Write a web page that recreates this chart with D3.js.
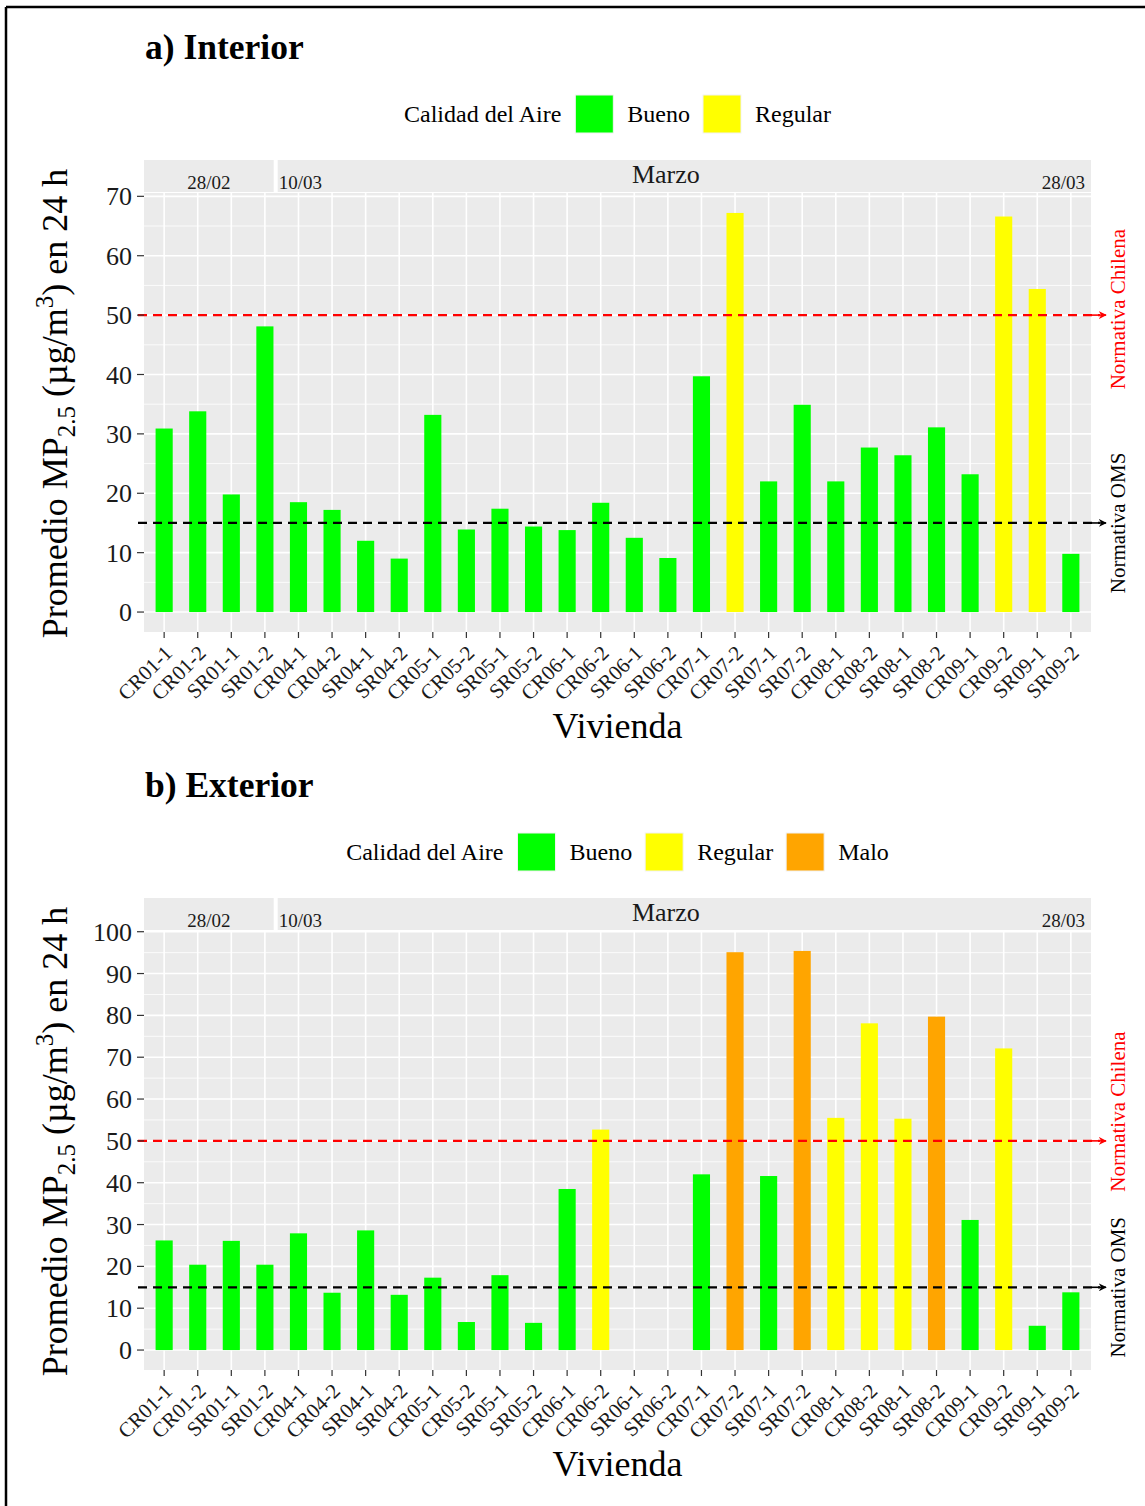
<!DOCTYPE html>
<html><head><meta charset="utf-8">
<script src="https://cdn.jsdelivr.net/npm/d3@7"></script>
<style>
html,body{margin:0;padding:0;background:#fff;}
svg text{font-family:"Liberation Serif","Times New Roman",serif;}
</style></head>
<body>
<svg id="chart" width="1145" height="1506"></svg>
<script>
// ---------------- data ----------------
const viviendas = ["CR01-1","CR01-2","SR01-1","SR01-2","CR04-1","CR04-2","SR04-1","SR04-2",
  "CR05-1","CR05-2","SR05-1","SR05-2","CR06-1","CR06-2","SR06-1","SR06-2",
  "CR07-1","CR07-2","SR07-1","SR07-2","CR08-1","CR08-2","SR08-1","SR08-2",
  "CR09-1","CR09-2","SR09-1","SR09-2"];
const interiorValues = [30.9,33.8,19.8,48.1,18.5,17.2,12.0,9.0,
  33.2,13.9,17.4,14.4,13.8,18.4,12.5,9.1,
  39.7,67.2,22.0,34.9,22.0,27.7,26.4,31.1,
  23.2,66.6,54.4,9.8];
const interiorCalidad = ["Bueno","Bueno","Bueno","Bueno","Bueno","Bueno","Bueno","Bueno",
  "Bueno","Bueno","Bueno","Bueno","Bueno","Bueno","Bueno","Bueno",
  "Bueno","Regular","Bueno","Bueno","Bueno","Bueno","Bueno","Bueno",
  "Bueno","Regular","Regular","Bueno"];
const exteriorValues = [26.2,20.4,26.1,20.4,27.9,13.7,28.6,13.2,
  17.3,6.7,17.9,6.5,38.5,52.7,null,null,
  42.0,95.1,41.6,95.4,55.5,78.1,55.3,79.7,
  31.1,72.1,5.8,13.8];
const exteriorCalidad = ["Bueno","Bueno","Bueno","Bueno","Bueno","Bueno","Bueno","Bueno",
  "Bueno","Bueno","Bueno","Bueno","Bueno","Regular",null,null,
  "Bueno","Malo","Bueno","Malo","Regular","Regular","Regular","Malo",
  "Bueno","Regular","Bueno","Bueno"];
const calidadLevels = ["Bueno","Regular","Malo"];
const calidadColors = ["#00FF00","#FFFF00","#FFA500"];
const interiorTicks = [0,10,20,30,40,50,60,70];
const exteriorTicks = [0,10,20,30,40,50,60,70,80,90,100];
const normativas = [{name:"Normativa Chilena", value:50, color:"#FF0000"},
                    {name:"Normativa OMS", value:15, color:"#000000"}];
const interiorLabelPos = [51, 15];
const exteriorLabelPos = [57, 15];
const stripLabels = {first:"28/02", start:"10/03", month:"Marzo", end:"28/03"};

// ---------------- layout ----------------
const svg = d3.select("#chart");
const color = d3.scaleOrdinal().domain(calidadLevels).range(calidadColors);
const L = 144, R = 1091;

// outer frame (left & top)
svg.append("line").attr("x1",6).attr("y1",7).attr("x2",1145).attr("y2",7).attr("stroke","#000").attr("stroke-width",2.5);
svg.append("line").attr("x1",6).attr("y1",7).attr("x2",6).attr("y2",1506).attr("stroke","#000").attr("stroke-width",2.5);

function panel(cfg){
  const off = cfg.off;
  const g = svg.append("g").attr("transform",`translate(0,${off})`);
  const top = 193, bottom = 632;
  const x = d3.scalePoint().domain(viviendas).range([L,R]).padding(0.6);
  const step = x.step();
  const vmax = d3.max(cfg.values.filter(v=>v!=null));
  const pad = vmax*0.05;
  const y = d3.scaleLinear().domain([-pad, vmax+pad]).range([bottom, top]);

  // title
  g.append("text").attr("x",145).attr("y",59).attr("font-size",35.5).attr("font-weight","bold").text(cfg.title);

  // legend
  const lg = g.append("g");
  let cx = 0;
  const lt = lg.append("text").attr("x",cx).attr("y",114).attr("dy","0.35em").attr("font-size",24).text("Calidad del Aire");
  cx += lt.node().getComputedTextLength() + 14;
  cfg.levels.forEach((lev,i)=>{
    lg.append("rect").attr("x",cx).attr("y",95).attr("width",38).attr("height",38).attr("fill",color(lev))
      .attr("stroke","#f2f2f2").attr("stroke-width",1);
    cx += 38 + 14;
    const t = lg.append("text").attr("x",cx).attr("y",114).attr("dy","0.35em").attr("font-size",24).text(lev);
    cx += t.node().getComputedTextLength() + (i < cfg.levels.length-1 ? 13 : 0);
  });
  lg.attr("transform",`translate(${(L+R)/2 - cx/2},0)`);

  // strips
  const split = (x(viviendas[3]) + x(viviendas[4]))/2 - 6;
  g.append("rect").attr("x",L).attr("y",160).attr("width",split-2-L).attr("height",32).attr("fill","#EBEBEB");
  g.append("rect").attr("x",split+2).attr("y",160).attr("width",R-split-2).attr("height",32).attr("fill","#EBEBEB");
  g.append("text").attr("x",(L+split-2)/2).attr("y",189).attr("text-anchor","middle").attr("font-size",19).attr("fill","#1a1a1a").text(stripLabels.first);
  g.append("text").attr("x",split+3).attr("y",189).attr("font-size",19).attr("fill","#1a1a1a").text(stripLabels.start);
  g.append("text").attr("x",x("SR06-2")-2).attr("y",183).attr("text-anchor","middle").attr("font-size",26).attr("fill","#1a1a1a").text(stripLabels.month);
  g.append("text").attr("x",R-6).attr("y",189).attr("text-anchor","end").attr("font-size",19).attr("fill","#1a1a1a").text(stripLabels.end);

  // panel background + grid
  g.append("rect").attr("x",L).attr("y",top).attr("width",R-L).attr("height",bottom-top).attr("fill","#EBEBEB");
  const ticks = cfg.ticks;
  const minor = ticks.slice(0,-1).map(t=>t+(ticks[1]-ticks[0])/2).concat([ticks[ticks.length-1]+(ticks[1]-ticks[0])/2]).filter(v=>y(v)>=top);
  g.selectAll(".mn").data(minor).join("line").attr("x1",L).attr("x2",R).attr("y1",d=>y(d)).attr("y2",d=>y(d)).attr("stroke","#fff").attr("stroke-width",0.8);
  g.selectAll(".mj").data(ticks).join("line").attr("x1",L).attr("x2",R).attr("y1",d=>y(d)).attr("y2",d=>y(d)).attr("stroke","#fff").attr("stroke-width",1.6);
  g.selectAll(".vx").data(viviendas).join("line").attr("x1",d=>x(d)).attr("x2",d=>x(d)).attr("y1",top).attr("y2",bottom).attr("stroke","#fff").attr("stroke-width",1.6);

  // bars
  const bw = step*0.51;
  const rows = viviendas.map((v,i)=>({v, val:cfg.values[i], cat:cfg.cats[i]})).filter(d=>d.val!=null);
  g.selectAll(".bar").data(rows).join("rect")
    .attr("x",d=>x(d.v)-bw/2).attr("width",bw)
    .attr("y",d=>y(d.val)).attr("height",d=>y(0)-y(d.val))
    .attr("fill",d=>color(d.cat));

  // reference lines
  const defsId = "arr"+cfg.id;
  const defs = g.append("defs");
  normativas.forEach((n,i)=>{
    defs.append("marker").attr("id",defsId+i).attr("viewBox","0 0 10 10").attr("refX",9).attr("refY",5)
      .attr("markerWidth",5).attr("markerHeight",5).attr("markerUnits","strokeWidth").attr("orient","auto")
      .append("path").attr("d","M0,0 L10,5 L0,10 L3,5 Z").attr("fill",n.color);
    g.append("line").attr("x1",L-6).attr("x2",1100).attr("y1",y(n.value)).attr("y2",y(n.value))
      .attr("stroke",n.color).attr("stroke-width",2.2).attr("stroke-dasharray","9,6");
    g.append("line").attr("x1",1092).attr("x2",1106).attr("y1",y(n.value)).attr("y2",y(n.value))
      .attr("stroke",n.color).attr("stroke-width",1.6).attr("marker-end",`url(#${defsId+i})`);
    g.append("text").attr("transform",`translate(1125,${y(cfg.labelPos[i])}) rotate(-90)`)
      .attr("text-anchor","middle").attr("font-size",21).attr("fill",n.color).text(n.name);
  });

  // y axis
  g.selectAll(".yt").data(ticks).join("line").attr("x1",137).attr("x2",L).attr("y1",d=>y(d)).attr("y2",d=>y(d)).attr("stroke","#333").attr("stroke-width",1.2);
  g.selectAll(".yl").data(ticks).join("text").attr("x",132).attr("y",d=>y(d)).attr("dy","0.35em")
    .attr("text-anchor","end").attr("font-size",26).attr("fill","#1a1a1a").text(d=>d);

  // x axis
  g.selectAll(".xt").data(viviendas).join("line").attr("x1",d=>x(d)).attr("x2",d=>x(d)).attr("y1",bottom).attr("y2",bottom+6).attr("stroke","#333").attr("stroke-width",1.2);
  g.selectAll(".xl").data(viviendas).join("text")
    .attr("transform",d=>`translate(${x(d)-1},${bottom+12}) rotate(-45)`)
    .attr("text-anchor","end").attr("dy","0.7em").attr("font-size",21).attr("fill","#1a1a1a").text(d=>d);

  // axis titles
  g.append("text").attr("x",(L+R)/2).attr("y",738).attr("text-anchor","middle").attr("font-size",36).text("Vivienda");
  const yt = g.append("text").attr("transform",`translate(67,${(top+bottom)/2 - 9}) rotate(-90)`).attr("text-anchor","middle").attr("font-size",36);
  yt.append("tspan").text("Promedio MP");
  yt.append("tspan").attr("font-size",25).attr("dy",8).text("2.5");
  yt.append("tspan").attr("dy",-8).text(" (µg/m");
  yt.append("tspan").attr("font-size",25).attr("dy",-14).text("3");
  yt.append("tspan").attr("dy",14).text(") en 24 h");
}

panel({id:"a", off:0, title:"a) Interior", values:interiorValues, cats:interiorCalidad,
       levels:["Bueno","Regular"], ticks:interiorTicks, labelPos:interiorLabelPos});
panel({id:"b", off:738, title:"b) Exterior", values:exteriorValues, cats:exteriorCalidad,
       levels:["Bueno","Regular","Malo"], ticks:exteriorTicks, labelPos:exteriorLabelPos});
</script>
</body></html>
